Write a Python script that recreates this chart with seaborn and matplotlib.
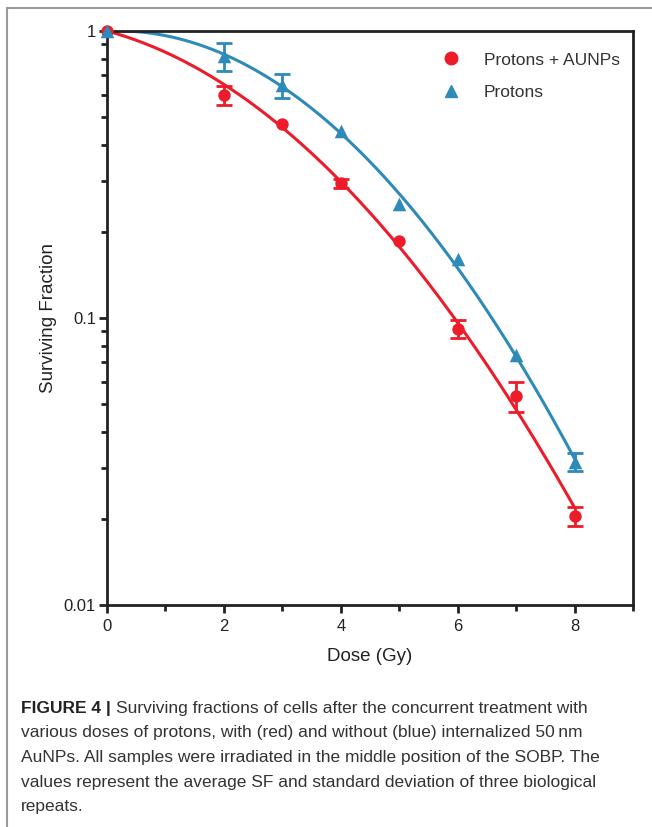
import numpy as np
import pandas as pd
import matplotlib
matplotlib.use("Agg")
import matplotlib.pyplot as plt
import matplotlib.ticker as mticker
from matplotlib.lines import Line2D
import seaborn as sns

# ---- data ----
dose = [0, 2, 3, 4, 5, 6, 7, 8]
sf_aunp = [1.0, 0.598, 0.474, 0.295, 0.185, 0.0916, 0.0535, 0.0204]
sd_aunp = [0.0, 0.045, 0.0, 0.011, 0.0, 0.0065, 0.0063, 0.0016]
sf_prot = [1.0, 0.818, 0.648, 0.447, 0.250, 0.160, 0.0745, 0.0316]
sd_prot = [0.0, 0.09, 0.062, 0.0, 0.0, 0.0, 0.0, 0.0022]
series_names = ["Protons + AUNPs", "Protons"]
colors = ["#EC1C2A", "#2E8AB8"]
markers = ["o", "^"]
xticks = [0, 2, 4, 6, 8]
yticks = [0.01, 0.1, 1]
yticklabels = ["0.01", "0.1", "1"]

sns.set_theme(style="white")
plt.rcParams["font.family"] = ["Liberation Sans", "DejaVu Sans"]

fig = plt.figure(figsize=(6.52, 8.27), dpi=100)
ax = fig.add_axes([107/652, 1-605/827, (633-107)/652, (605-31)/827])


def lq_fit(d, sf):
    d = np.asarray(d, float)
    y = -np.log(np.asarray(sf, float))
    A = np.column_stack([d, d**2])
    (a, b), *_ = np.linalg.lstsq(A, y, rcond=None)
    return a, b


frames = []
for name, sf, sd in [(series_names[0], sf_aunp, sd_aunp),
                     (series_names[1], sf_prot, sd_prot)]:
    frames.append(pd.DataFrame({"Dose": dose, "SF": sf, "SD": sd, "Series": name}))
df = pd.concat(frames, ignore_index=True)

dd = np.linspace(0, 8, 200)
fit_frames = []
for name, sf in [(series_names[0], sf_aunp), (series_names[1], sf_prot)]:
    a, b = lq_fit(dose, sf)
    fit_frames.append(pd.DataFrame({"Dose": dd, "SF": np.exp(-(a*dd + b*dd**2)), "Series": name}))
fit_df = pd.concat(fit_frames, ignore_index=True)

pal = dict(zip(series_names, colors))
sns.lineplot(data=fit_df, x="Dose", y="SF", hue="Series", palette=pal,
             linewidth=2.2, legend=False, ax=ax)

for name, col, mk in zip(series_names, colors, markers):
    sub = df[df["Series"] == name]
    eb = sub[sub["SD"] > 0]
    ax.errorbar(eb["Dose"], eb["SF"], yerr=eb["SD"], fmt="none", ecolor=col,
                elinewidth=2, capsize=6, capthick=2, zorder=4)
    sns.scatterplot(data=sub, x="Dose", y="SF", color=col, marker=mk,
                    s=80 if mk == "o" else 95, edgecolor=col, linewidth=0,
                    ax=ax, zorder=5, clip_on=False, legend=False)

ax.set_yscale("log")
ax.set_xlim(0, 9)
ax.set_ylim(0.01, 1)
ax.set_xticks(xticks)
ax.set_xticks([1, 3, 5, 7, 9], minor=True)
ax.set_yticks(yticks)
ax.set_yticklabels(yticklabels)
ax.yaxis.set_minor_locator(mticker.LogLocator(base=10, subs=np.arange(2, 10)))
ax.yaxis.set_minor_formatter(mticker.NullFormatter())
ax.tick_params(axis="both", which="major", direction="out", length=6, width=2,
               color="#222222", labelsize=12, labelcolor="#222222", pad=2,
               bottom=True, left=True)
ax.tick_params(axis="x", which="major", pad=4)
ax.tick_params(axis="both", which="minor", direction="out", length=4, width=2,
               color="#222222", bottom=True, left=True)
for sp in ax.spines.values():
    sp.set_color("#222222")
    sp.set_linewidth(2)
ax.set_xlabel("Dose (Gy)", fontsize=13.5, color="#222222", labelpad=10)
ax.set_ylabel("Surviving Fraction", fontsize=13.5, color="#222222", labelpad=5)
ax.grid(False)

handles = [Line2D([], [], linestyle="none", marker=m, color=c, markersize=9)
           for m, c in zip(markers, colors)]
ax.legend(handles, series_names, loc="upper right", bbox_to_anchor=(1.005, 0.99),
          frameon=False, fontsize=12.5, handletextpad=0.9, labelspacing=1.0,
          labelcolor="#333333")

# ---- frame of the figure panel ----
fig.add_artist(Line2D([7/652, 7/652], [0, 1-8/827], transform=fig.transFigure,
                      color="#9a9a9a", linewidth=1.5))
fig.add_artist(Line2D([7/652, 1], [1-8/827, 1-8/827], transform=fig.transFigure,
                      color="#9a9a9a", linewidth=1.5))

# ---- caption ----
cap_fam = ["Liberation Sans Narrow", "Liberation Sans", "DejaVu Sans"]
cap_lines = [
    "Surviving fractions of cells after the concurrent treatment with",
    "various doses of protons, with (red) and without (blue) internalized 50\u2009nm",
    "AuNPs. All samples were irradiated in the middle position of the SOBP. The",
    "values represent the average SF and standard deviation of three biological",
    "repeats.",
]
baselines = [713, 737.5, 762, 786.5, 811]
x0 = 21/652
fs = 12.5
t = fig.text(x0, 1-baselines[0]/827, "FIGURE 4 | ", fontsize=fs, fontweight="bold",
             color="#222222", family=cap_fam, va="baseline")
fig.canvas.draw()
bb = t.get_window_extent(renderer=fig.canvas.get_renderer())
fig.text(bb.x1/fig.bbox.width, 1-baselines[0]/827, cap_lines[0], fontsize=fs,
         color="#333333", family=cap_fam, va="baseline")
for line, y in zip(cap_lines[1:], baselines[1:]):
    fig.text(x0, 1-y/827, line, fontsize=fs, color="#333333",
             family=cap_fam, va="baseline")

fig.savefig("out.png", dpi=100)
